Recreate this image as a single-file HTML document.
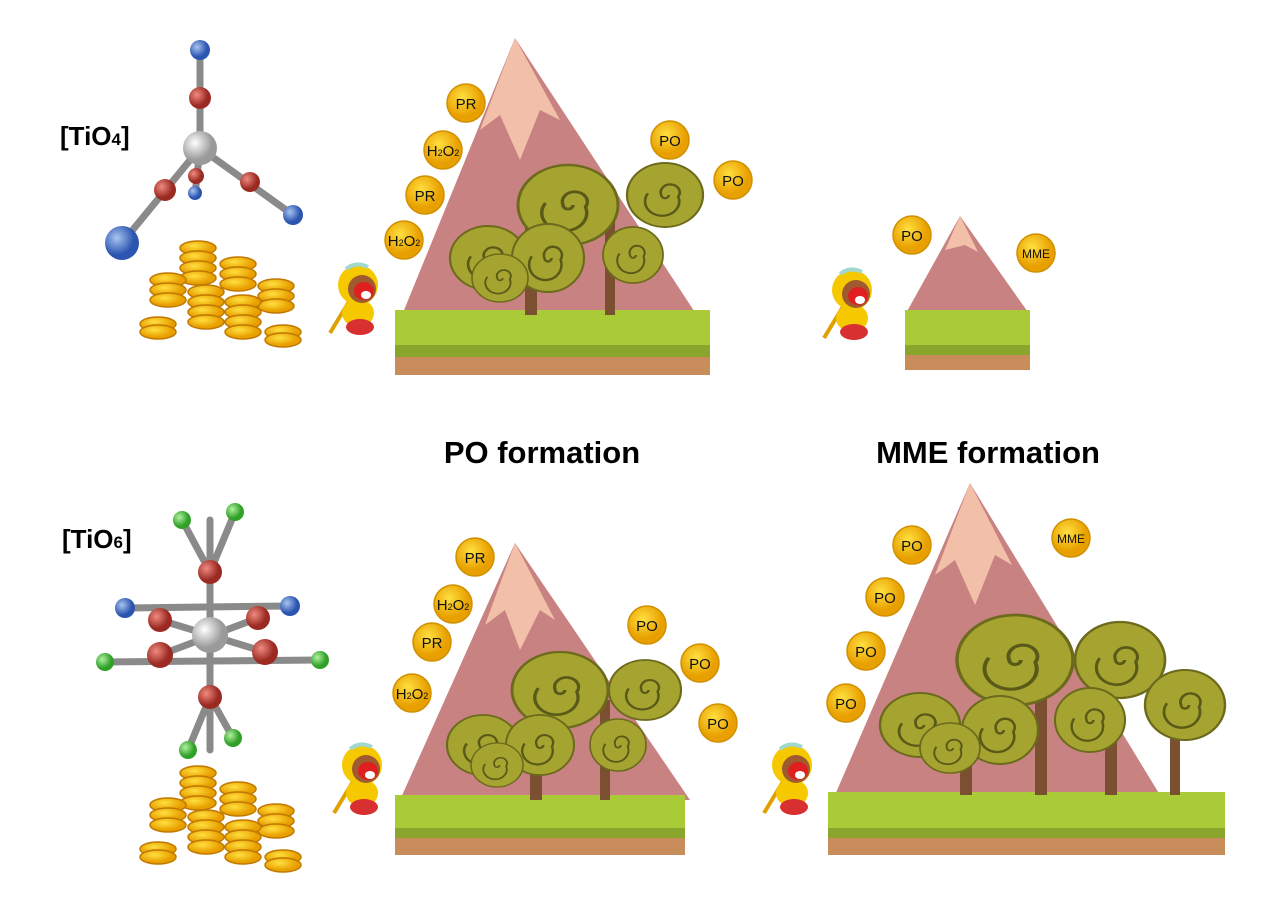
<!DOCTYPE html>
<html><head><meta charset="utf-8"><style>
html,body{margin:0;padding:0;background:#fff;}
svg{display:block;}
text{font-family:"Liberation Sans",sans-serif;}
</style></head><body>
<svg width="1270" height="917" viewBox="0 0 1270 917" xmlns="http://www.w3.org/2000/svg">
<defs>
<radialGradient id="gW" cx="35%" cy="35%"><stop offset="0" stop-color="#fff"/><stop offset="1" stop-color="#9a9a9a"/></radialGradient>
<radialGradient id="gR" cx="35%" cy="35%"><stop offset="0" stop-color="#f08a80"/><stop offset="1" stop-color="#9a2a22"/></radialGradient>
<radialGradient id="gB" cx="35%" cy="35%"><stop offset="0" stop-color="#a8c4f0"/><stop offset="1" stop-color="#2c55b0"/></radialGradient>
<radialGradient id="gG" cx="35%" cy="35%"><stop offset="0" stop-color="#b0f0a0"/><stop offset="1" stop-color="#30a028"/></radialGradient>
<radialGradient id="gC" cx="40%" cy="35%"><stop offset="0" stop-color="#ffe040"/><stop offset="1" stop-color="#e8a000"/></radialGradient>
<g id="tree"><circle r="1" fill="#a6a431" stroke="#6c6a1c" stroke-width="0.06"/><path d="M0,0 m0.1,0 a0.1,0.1 0 1 1 -0.2,0 a0.25,0.25 0 1 1 0.45,0.05 a0.45,0.45 0 1 1 -0.8,-0.1" fill="none" stroke="#5a5a18" stroke-width="0.07"/></g>
<g id="monkey">
<line x1="-28" y1="48" x2="-5" y2="10" stroke="#e0a000" stroke-width="4"/>
<ellipse cx="0" cy="28" rx="16" ry="14" fill="#f5c800"/>
<ellipse cx="2" cy="42" rx="14" ry="8" fill="#d83030"/>
<circle cx="0" cy="0" r="20" fill="#f5c800"/>
<circle cx="4" cy="4" r="14" fill="#a05a30"/>
<ellipse cx="6" cy="6" rx="10" ry="9" fill="#e02020"/>
<ellipse cx="8" cy="10" rx="5" ry="4" fill="#fff"/>
<path d="M-12,-16 q10,-8 22,-2" stroke="#a0d8d0" stroke-width="4" fill="none"/>
</g>
<g id="stack">
<g fill="url(#gC)" stroke="#c07800" stroke-width="1.5">
<ellipse cx="60" cy="8" rx="18" ry="7"/><ellipse cx="60" cy="18" rx="18" ry="7"/><ellipse cx="60" cy="28" rx="18" ry="7"/><ellipse cx="60" cy="38" rx="18" ry="7"/>
<ellipse cx="100" cy="24" rx="18" ry="7"/><ellipse cx="100" cy="34" rx="18" ry="7"/><ellipse cx="100" cy="44" rx="18" ry="7"/>
<ellipse cx="30" cy="40" rx="18" ry="7"/><ellipse cx="30" cy="50" rx="18" ry="7"/><ellipse cx="30" cy="60" rx="18" ry="7"/>
<ellipse cx="138" cy="46" rx="18" ry="7"/><ellipse cx="138" cy="56" rx="18" ry="7"/><ellipse cx="138" cy="66" rx="18" ry="7"/>
<ellipse cx="68" cy="52" rx="18" ry="7"/><ellipse cx="68" cy="62" rx="18" ry="7"/><ellipse cx="68" cy="72" rx="18" ry="7"/><ellipse cx="68" cy="82" rx="18" ry="7"/>
<ellipse cx="105" cy="62" rx="18" ry="7"/><ellipse cx="105" cy="72" rx="18" ry="7"/><ellipse cx="105" cy="82" rx="18" ry="7"/><ellipse cx="105" cy="92" rx="18" ry="7"/>
<ellipse cx="20" cy="84" rx="18" ry="7"/><ellipse cx="20" cy="92" rx="18" ry="7"/>
<ellipse cx="145" cy="92" rx="18" ry="7"/><ellipse cx="145" cy="100" rx="18" ry="7"/>
</g></g>
</defs>

<!-- text labels -->
<text x="60" y="145" font-size="26" font-weight="bold">[TiO<tspan font-size="17">4</tspan>]</text>
<text x="62" y="548" font-size="26" font-weight="bold">[TiO<tspan font-size="17">6</tspan>]</text>
<text x="542" y="463" font-size="31" font-weight="bold" text-anchor="middle">PO formation</text>
<text x="988" y="463" font-size="31" font-weight="bold" text-anchor="middle">MME formation</text>

<!-- TiO4 molecule -->
<g stroke="#8a8a8a" stroke-width="7" stroke-linecap="round">
<line x1="200" y1="50" x2="200" y2="148"/><line x1="200" y1="148" x2="122" y2="243"/><line x1="200" y1="148" x2="293" y2="215"/><line x1="200" y1="148" x2="195" y2="195"/>
</g>
<circle cx="200" cy="50" r="10" fill="url(#gB)"/><circle cx="200" cy="98" r="11" fill="url(#gR)"/>
<circle cx="195" cy="193" r="7" fill="url(#gB)"/><circle cx="196" cy="176" r="8" fill="url(#gR)"/>
<circle cx="200" cy="148" r="17" fill="url(#gW)"/>
<circle cx="165" cy="190" r="11" fill="url(#gR)"/><circle cx="122" cy="243" r="17" fill="url(#gB)"/>
<circle cx="250" cy="182" r="10" fill="url(#gR)"/><circle cx="293" cy="215" r="10" fill="url(#gB)"/>

<!-- TiO6 molecule -->
<g stroke="#8a8a8a" stroke-width="7" stroke-linecap="round">
<line x1="210" y1="520" x2="210" y2="750"/><line x1="182" y1="520" x2="210" y2="572"/><line x1="235" y1="512" x2="210" y2="572"/>
<line x1="125" y1="608" x2="290" y2="606"/><line x1="105" y1="662" x2="320" y2="660"/>
<line x1="160" y1="620" x2="265" y2="652"/><line x1="258" y1="618" x2="160" y2="655"/>
<line x1="188" y1="750" x2="210" y2="697"/><line x1="233" y1="738" x2="210" y2="697"/>
</g>
<circle cx="182" cy="520" r="9" fill="url(#gG)"/><circle cx="235" cy="512" r="9" fill="url(#gG)"/>
<circle cx="210" cy="572" r="12" fill="url(#gR)"/>
<circle cx="125" cy="608" r="10" fill="url(#gB)"/><circle cx="290" cy="606" r="10" fill="url(#gB)"/>
<circle cx="160" cy="620" r="12" fill="url(#gR)"/><circle cx="258" cy="618" r="12" fill="url(#gR)"/>
<circle cx="210" cy="635" r="18" fill="url(#gW)"/>
<circle cx="160" cy="655" r="13" fill="url(#gR)"/><circle cx="265" cy="652" r="13" fill="url(#gR)"/>
<circle cx="105" cy="662" r="9" fill="url(#gG)"/><circle cx="320" cy="660" r="9" fill="url(#gG)"/>
<circle cx="210" cy="697" r="12" fill="url(#gR)"/>
<circle cx="188" cy="750" r="9" fill="url(#gG)"/><circle cx="233" cy="738" r="9" fill="url(#gG)"/>

<use href="#stack" x="138" y="240"/>
<use href="#stack" x="138" y="765"/>

<!-- Scene 1 -->
<polygon points="515,38 400,320 700,320" fill="#c98282"/>
<polygon points="515,38 480,130 500,115 520,160 540,110 560,120" fill="#f2c0a8"/>
<g transform="translate(400,0)">
<rect x="-5" y="310" width="315" height="40" fill="#a9cb38"/>
<rect x="-5" y="345" width="315" height="12" fill="#8aa52c"/>
<rect x="-5" y="357" width="315" height="18" fill="#c88d5a"/>
</g>
<rect x="525" y="220" width="12" height="95" fill="#7a5030"/><rect x="605" y="200" width="10" height="115" fill="#7a5030"/>
<use href="#tree" transform="translate(568,205) scale(50,40)"/>
<use href="#tree" transform="translate(665,195) scale(38,32)"/>
<use href="#tree" transform="translate(488,258) scale(38,32)"/>
<use href="#tree" transform="translate(548,258) scale(36,34)"/>
<use href="#tree" transform="translate(500,278) scale(28,24)"/>
<use href="#tree" transform="translate(633,255) scale(30,28)"/>
<use href="#monkey" x="358" y="285"/>

<!-- Scene 2 small -->
<polygon points="960,216 905,315 1030,315" fill="#c98282"/>
<polygon points="960,216 945,250 965,245 978,252" fill="#f2c0a8"/>
<rect x="905" y="310" width="125" height="35" fill="#a9cb38"/>
<rect x="905" y="345" width="125" height="10" fill="#8aa52c"/>
<rect x="905" y="355" width="125" height="15" fill="#c88d5a"/>
<use href="#monkey" x="852" y="290"/>

<!-- Scene 3 -->
<polygon points="515,543 400,800 690,800" fill="#c98282"/>
<polygon points="515,543 485,625 505,610 520,650 540,610 555,620" fill="#f2c0a8"/>
<rect x="395" y="795" width="290" height="35" fill="#a9cb38"/>
<rect x="395" y="828" width="290" height="10" fill="#8aa52c"/>
<rect x="395" y="838" width="290" height="17" fill="#c88d5a"/>
<rect x="530" y="720" width="12" height="80" fill="#7a5030"/><rect x="600" y="700" width="10" height="100" fill="#7a5030"/>
<use href="#tree" transform="translate(560,690) scale(48,38)"/>
<use href="#tree" transform="translate(645,690) scale(36,30)"/>
<use href="#tree" transform="translate(483,745) scale(36,30)"/>
<use href="#tree" transform="translate(540,745) scale(34,30)"/>
<use href="#tree" transform="translate(497,765) scale(26,22)"/>
<use href="#tree" transform="translate(618,745) scale(28,26)"/>
<use href="#monkey" x="362" y="765"/>

<!-- Scene 4 -->
<polygon points="970,483 835,795 1160,795" fill="#c98282"/>
<polygon points="970,483 935,575 955,560 975,605 995,555 1012,565" fill="#f2c0a8"/>
<rect x="828" y="792" width="397" height="38" fill="#a9cb38"/>
<rect x="828" y="828" width="397" height="10" fill="#8aa52c"/>
<rect x="828" y="838" width="397" height="17" fill="#c88d5a"/>
<rect x="1035" y="690" width="12" height="105" fill="#7a5030"/><rect x="1105" y="700" width="12" height="95" fill="#7a5030"/><rect x="1170" y="720" width="10" height="75" fill="#7a5030"/><rect x="960" y="740" width="12" height="55" fill="#7a5030"/>
<use href="#tree" transform="translate(1015,660) scale(58,45)"/>
<use href="#tree" transform="translate(1120,660) scale(45,38)"/>
<use href="#tree" transform="translate(1185,705) scale(40,35)"/>
<use href="#tree" transform="translate(1090,720) scale(35,32)"/>
<use href="#tree" transform="translate(920,725) scale(40,32)"/>
<use href="#tree" transform="translate(1000,730) scale(38,34)"/>
<use href="#tree" transform="translate(950,748) scale(30,25)"/>
<use href="#monkey" x="792" y="765"/>

<!-- coins -->
<g fill="url(#gC)" stroke="#d09000" stroke-width="1.5">
<circle cx="466" cy="103" r="19"/><circle cx="443" cy="150" r="19"/><circle cx="425" cy="195" r="19"/><circle cx="404" cy="240" r="19"/>
<circle cx="670" cy="140" r="19"/><circle cx="733" cy="180" r="19"/><circle cx="912" cy="235" r="19"/><circle cx="1036" cy="253" r="19"/>
<circle cx="475" cy="557" r="19"/><circle cx="453" cy="604" r="19"/><circle cx="432" cy="642" r="19"/><circle cx="412" cy="693" r="19"/>
<circle cx="647" cy="625" r="19"/><circle cx="700" cy="663" r="19"/><circle cx="718" cy="723" r="19"/>
<circle cx="912" cy="545" r="19"/><circle cx="885" cy="597" r="19"/><circle cx="866" cy="651" r="19"/><circle cx="846" cy="703" r="19"/><circle cx="1071" cy="538" r="19"/>
</g>
<g font-size="15" text-anchor="middle" fill="#111">
<text x="466" y="109">PR</text><text x="443" y="156">H<tspan font-size="9">2</tspan>O<tspan font-size="9">2</tspan></text><text x="425" y="201">PR</text><text x="404" y="246">H<tspan font-size="9">2</tspan>O<tspan font-size="9">2</tspan></text>
<text x="670" y="146">PO</text><text x="733" y="186">PO</text><text x="912" y="241">PO</text><text x="1036" y="258" font-size="12">MME</text>
<text x="475" y="563">PR</text><text x="453" y="610">H<tspan font-size="9">2</tspan>O<tspan font-size="9">2</tspan></text><text x="432" y="648">PR</text><text x="412" y="699">H<tspan font-size="9">2</tspan>O<tspan font-size="9">2</tspan></text>
<text x="647" y="631">PO</text><text x="700" y="669">PO</text><text x="718" y="729">PO</text>
<text x="912" y="551">PO</text><text x="885" y="603">PO</text><text x="866" y="657">PO</text><text x="846" y="709">PO</text><text x="1071" y="543" font-size="12">MME</text>
</g>
</svg>
</body></html>
